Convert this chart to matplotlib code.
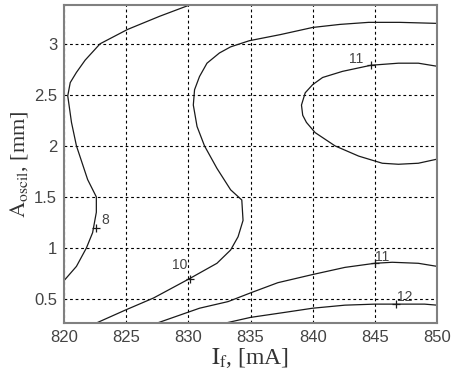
import matplotlib
matplotlib.use("Agg")
import matplotlib.pyplot as plt

plt.rcParams['mathtext.fontset'] = 'stix'

# contour lines: I_f [mA], A_oscil [mm]
c8_x = [820.0, 821.0, 821.8, 822.3, 822.6, 822.6, 821.9, 821.0, 820.6, 820.3, 820.5, 821.0, 821.7, 822.9, 825.1, 827.7, 830.1]
c8_y = [0.68, 0.82, 1.0, 1.15, 1.35, 1.5, 1.67, 2.0, 2.23, 2.49, 2.62, 2.72, 2.84, 3.0, 3.14, 3.27, 3.38]

c10_x = [822.6, 824.9, 827.2, 830.1, 832.3, 833.4, 834.0, 834.4, 834.3, 833.4, 832.3, 831.3, 830.7, 830.4, 830.5, 830.9, 831.5, 832.5,
         833.4, 834.9, 837.4, 840.0, 842.2, 844.5, 847.0, 850.0]
c10_y = [0.265, 0.39, 0.51, 0.70, 0.85, 0.98, 1.11, 1.27, 1.47, 1.57, 1.78, 2.0, 2.19, 2.40, 2.55, 2.68, 2.81, 2.91,
         2.97, 3.03, 3.09, 3.16, 3.19, 3.21, 3.21, 3.2]

c11a_x = [850.0, 848.5, 846.9, 844.7, 842.4, 840.8, 840.0, 839.4, 839.1, 839.2, 839.5, 840.2, 841.8, 843.7, 845.6, 846.9, 848.5, 850.0]
c11a_y = [2.78, 2.81, 2.81, 2.79, 2.73, 2.67, 2.60, 2.52, 2.40, 2.30, 2.23, 2.13, 2.0, 1.9, 1.83, 1.82, 1.83, 1.87]

c11b_x = [827.5, 830.9, 833.2, 835.0, 837.2, 840.0, 842.6, 845.0, 846.4, 848.5, 850.0]
c11b_y = [0.265, 0.41, 0.475, 0.56, 0.66, 0.74, 0.81, 0.85, 0.86, 0.85, 0.82]

c12_x = [833.0, 835.0, 837.8, 840.0, 842.6, 845.0, 846.9, 849.0, 850.0]
c12_y = [0.265, 0.32, 0.37, 0.41, 0.44, 0.45, 0.45, 0.45, 0.44]

# label positions (marker on the line) and label text
lab_x = [822.6, 830.1, 844.7, 845.0, 846.7]
lab_y = [1.2, 0.70, 2.79, 0.85, 0.45]
lab_txt = ['8', '10', '11', '11', '12']
lab_dx = [0.4, -1.4, -1.8, 0.0, 0.1]
lab_dy = [0.03, 0.09, 0.02, 0.02, 0.03]

fig = plt.figure(figsize=(4.55, 3.73), dpi=100)
ax = fig.add_axes([0.1407, 0.134, 0.8197, 0.8526])

for xs, ys in [(c8_x, c8_y), (c10_x, c10_y), (c11a_x, c11a_y), (c11b_x, c11b_y), (c12_x, c12_y)]:
    ax.plot(xs, ys, color='#1a1a1a', lw=0.9)

ax.plot(lab_x, lab_y, '+', color='#1a1a1a', ms=6, mew=0.9)
for x, y, t, dx, dy in zip(lab_x, lab_y, lab_txt, lab_dx, lab_dy):
    ax.text(x + dx, y + dy, t, fontsize=10, color='#444444', family='Liberation Sans', va='baseline')

ax.set_xlim(820, 850)
ax.set_ylim(0.265, 3.38)
ax.set_xticks([820, 825, 830, 835, 840, 845, 850])
ax.set_yticks([0.5, 1, 1.5, 2, 2.5, 3])
ax.set_yticklabels(['0.5', '1', '1.5', '2', '2.5', '3'])
ax.grid(True, color='black', linestyle=(0, (2.5, 2.5)), lw=0.8)
ax.tick_params(direction='in', length=0, labelsize=12, labelcolor='#444444', pad=5)
for lbl in ax.get_xticklabels() + ax.get_yticklabels():
    lbl.set_family('Liberation Sans')
for s in ax.spines.values():
    s.set_color('#808080')
    s.set_linewidth(1.5)

ax.set_xlabel(r'$\mathrm{I_f}$, [mA]', fontsize=17, family='Liberation Serif', color='#333333', labelpad=1)
ax.set_ylabel(r'$\mathrm{A_{oscil}}$, [mm]', fontsize=16, family='Liberation Serif', color='#333333', labelpad=3)

fig.savefig('out.png', dpi=100)
